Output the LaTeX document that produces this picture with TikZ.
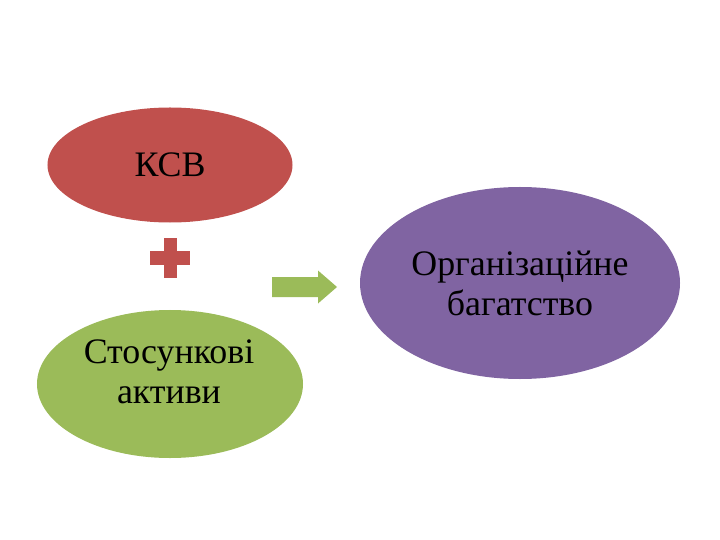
\documentclass[tikz,border=0pt]{standalone}
\usepackage{fontspec}
\setmainfont{Liberation Serif}
\usetikzlibrary{shapes.geometric, positioning}
\definecolor{ksvred}{HTML}{C0504D}
\definecolor{actgreen}{HTML}{9BBB59}
\definecolor{orgviolet}{HTML}{8064A2}
\tikzstyle{blob}=[ellipse, inner sep=0pt, align=center]
\tikzstyle{every node}=[font=\fontsize{36}{40}\selectfont]

\begin{document}
\begin{tikzpicture}[x=1bp, y=-1bp]
    \useasboundingbox (0,0) rectangle (720,540);
    \node[blob, fill=ksvred, minimum width=245bp, minimum height=115bp] (ksv) at (170,165) {КСВ};
    \node[blob, fill=actgreen, minimum width=266bp, minimum height=148bp] (act) at (170,384) {};
    \node[align=center] (actlbl) at (169,372) {Стосункові\\активи};
    \node[blob, fill=orgviolet, minimum width=320bp, minimum height=192bp] (org) at (520,283) {Організаційне\\багатство};
    % plus sign between the two ellipses
    \coordinate (plus) at (170,258);
    \fill[ksvred] ([xshift=-20bp, yshift=-6.5bp]plus) rectangle ([xshift=20bp, yshift=6.5bp]plus);
    \fill[ksvred] ([xshift=-6.5bp, yshift=-20bp]plus) rectangle ([xshift=6.5bp, yshift=20bp]plus);
    % block arrow towards the result
    \coordinate (arr) at (272,287);
    \fill[actgreen] (arr) ++(0,-10) -- ++(46,0) -- ++(0,-6.5) -- ++(19,16.5)
        -- ++(-19,16.5) -- ++(0,-6.5) -- ++(-46,0) -- cycle;
\end{tikzpicture}
\end{document}
